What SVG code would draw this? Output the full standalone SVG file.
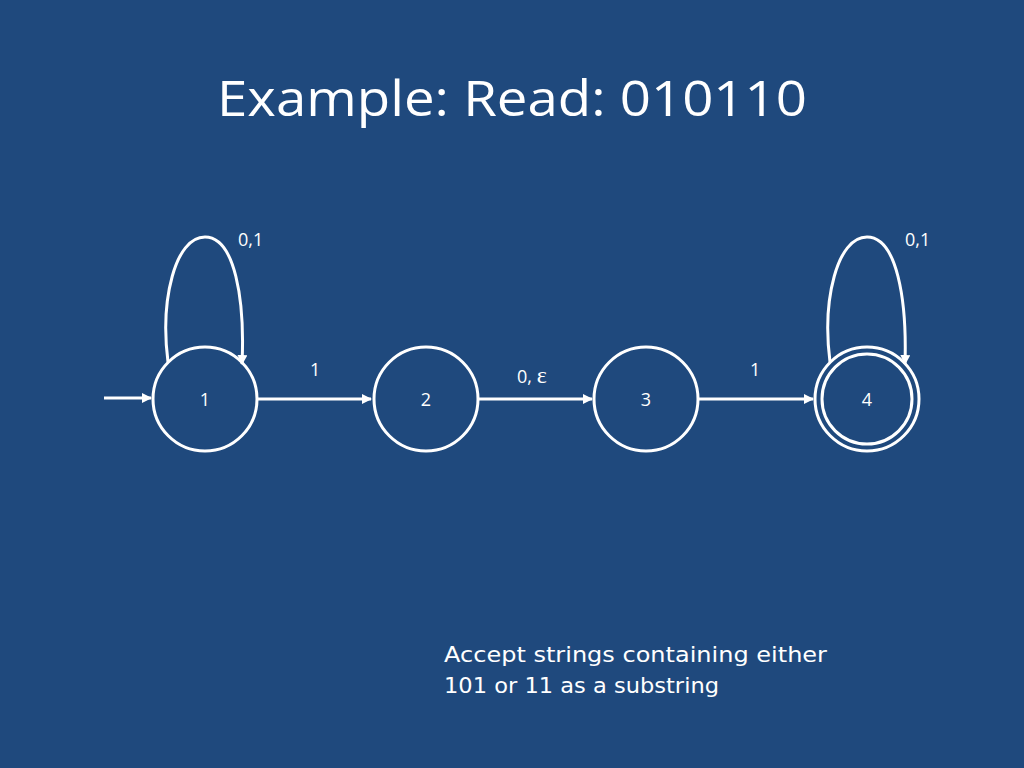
<svg xmlns="http://www.w3.org/2000/svg" width="1024" height="768" viewBox="0 0 1024 768">
<defs>
<style>
.st{fill:none;stroke:#fff;stroke-width:3}
.lb{fill:#fff;font-family:"Open Sans","Liberation Sans",sans-serif;font-size:18px}
</style>
<marker id="ah" markerWidth="10" markerHeight="10" refX="9" refY="5" orient="auto" markerUnits="userSpaceOnUse" viewBox="0 0 10 10"><path d="M0,0 L10,5 L0,10 z" fill="#fff"/></marker>
</defs>
<rect width="1024" height="768" fill="#1F497D"/>
<text x="512" y="116" text-anchor="middle" textLength="590" lengthAdjust="spacingAndGlyphs" fill="#fff" font-family="'Open Sans','Liberation Sans',sans-serif" font-size="50">Example: Read: 010110</text>
<g id="connectors">
<line class="st" x1="104" y1="398" x2="151" y2="398" marker-end="url(#ah)"/>
<line class="st" x1="258" y1="399" x2="371" y2="399" marker-end="url(#ah)"/>
<line class="st" x1="479" y1="399" x2="592" y2="399" marker-end="url(#ah)"/>
<line class="st" x1="699" y1="399" x2="813" y2="399" marker-end="url(#ah)"/>
<path class="st" d="M168,362 C160,300 175,237 205,237 C235,237 245,300 242,364" marker-end="url(#ah)"/>
<path class="st" d="M830,362 C822,300 837,237 867,237 C897,237 907,300 905,364" marker-end="url(#ah)"/>
<text class="lb" x="238" y="246">0,1</text>
<text class="lb" x="905" y="246">0,1</text>
<text class="lb" x="310" y="376">1</text>
<text class="lb" x="517" y="383">0, <tspan font-family="'Liberation Serif',serif" font-size="24">ε</tspan></text>
<text class="lb" x="750" y="376">1</text>
</g>
<g id="n1"><circle class="st" cx="205" cy="399" r="52"/><text class="lb" x="205" y="406" text-anchor="middle">1</text></g>
<g id="n2"><circle class="st" cx="426" cy="399" r="52"/><text class="lb" x="426" y="406" text-anchor="middle">2</text></g>
<g id="n3"><circle class="st" cx="646" cy="399" r="52"/><text class="lb" x="646" y="406" text-anchor="middle">3</text></g>
<g id="n4"><circle class="st" cx="867" cy="399" r="52"/><circle class="st" cx="867" cy="399" r="45"/><text class="lb" x="867" y="406" text-anchor="middle">4</text></g>
<g id="note" fill="#fff" font-family="'DejaVu Sans','Liberation Sans',sans-serif" font-size="22">
<text x="444" y="662" textLength="383" lengthAdjust="spacingAndGlyphs">Accept strings containing either</text>
<text x="444" y="693" textLength="275" lengthAdjust="spacingAndGlyphs">101 or 11 as a substring</text>
</g>
</svg>
